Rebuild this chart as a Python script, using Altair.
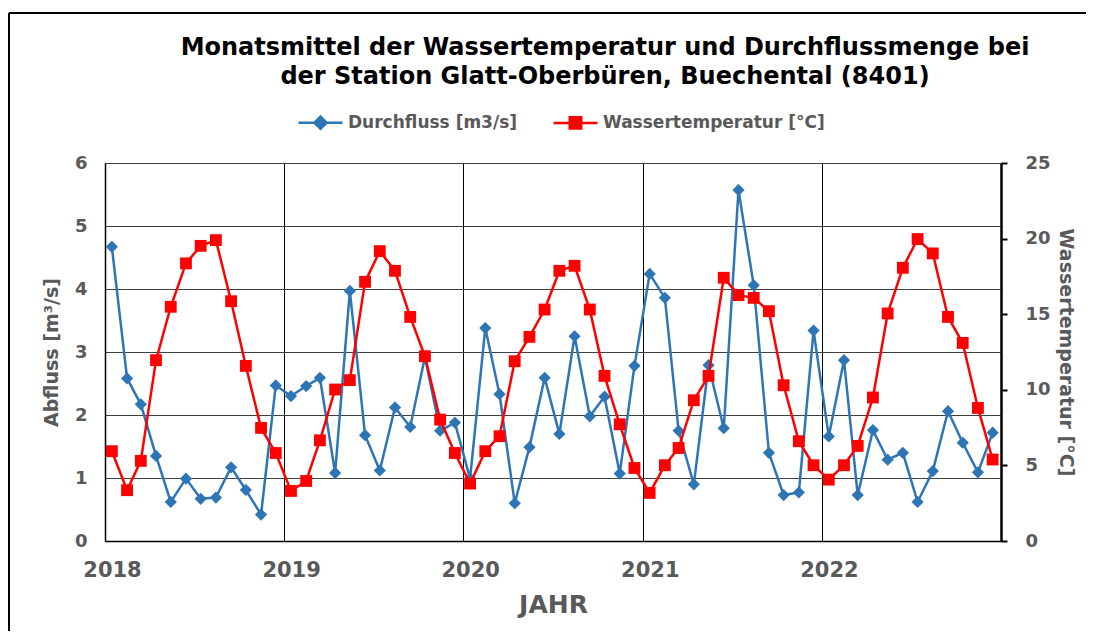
import altair as alt
import pandas as pd

years = [2018, 2019, 2020, 2021, 2022]
months = list(range(1, 13))

durchfluss = [
    4.67, 2.58, 2.17, 1.35, 0.62, 0.99, 0.67, 0.69, 1.17, 0.81, 0.42, 2.47,
    2.30, 2.46, 2.59, 1.08, 3.97, 1.68, 1.12, 2.12, 1.81, 2.92, 1.75, 1.88,
    0.99, 3.38, 2.33, 0.60, 1.49, 2.59, 1.70, 3.25, 1.98, 2.29, 1.07, 2.78,
    4.24, 3.86, 1.75, 0.90, 2.79, 1.79, 5.57, 4.06, 1.40, 0.73, 0.77, 3.34,
    1.66, 2.87, 0.73, 1.76, 1.29, 1.40, 0.62, 1.11, 2.06, 1.56, 1.09, 1.72,
]
temperatur = [
    5.94, 3.36, 5.30, 11.96, 15.49, 18.36, 19.52, 19.90, 15.86, 11.58, 7.48, 5.82,
    3.31, 3.97, 6.66, 10.02, 10.64, 17.14, 19.17, 17.87, 14.82, 12.22, 8.03, 5.82,
    3.80, 5.94, 6.93, 11.89, 13.50, 15.31, 17.87, 18.20, 15.31, 10.92, 7.72, 4.83,
    3.18, 5.01, 6.15, 9.31, 10.92, 17.41, 16.26, 16.08, 15.20, 10.30, 6.60, 5.01,
    4.06, 5.01, 6.29, 9.49, 15.05, 18.07, 19.97, 19.02, 14.82, 13.10, 8.80, 5.39,
]
series_names = ["Durchfluss [m3/s]", "Wassertemperatur [°C]"]
q_ticks = [0, 1, 2, 3, 4, 5, 6]
t_ticks = [0, 5, 10, 15, 20, 25]

dates = [f"{y}-{m:02d}-15T00:00:00" for y in years for m in months]
df = pd.DataFrame({"date": dates, "durchfluss": durchfluss, "temperatur": temperatur})
legend_df = pd.DataFrame({"series": series_names})

FONT = "DejaVu Sans"
GREY = "#595959"
BLUE = "#2E75B6"
RED = "#FF0000"

x_enc = alt.X(
    "date:T",
    scale=alt.Scale(domain=[alt.DateTime(year=2018, month=1, date=1),
                            alt.DateTime(year=2023, month=1, date=1)]),
    axis=alt.Axis(
        values=[alt.DateTime(year=y, month=1, date=1) for y in years],
        format="%Y", title="JAHR", grid=True, gridColor="black", gridWidth=1,
        tickSize=0, labelOffset=7, labelPadding=18, labelFlush=False,
        labelFontSize=21, labelFontWeight="bold", labelColor=GREY, labelFont=FONT,
        titleFontSize=25, titleFontWeight="bold", titleColor=GREY, titleFont=FONT,
        titlePadding=12, domainColor="black", domainWidth=1.5,
    ),
)

base = alt.Chart(df)

q_y = alt.Y(
    "durchfluss:Q",
    scale=alt.Scale(domain=[0, 6]),
    axis=alt.Axis(
        values=q_ticks, title="Abfluss [m³/s]", grid=True, gridColor="#404040",
        gridWidth=1.2, tickSize=0, labelPadding=18, labelFontSize=18,
        labelFontWeight="bold", labelColor=GREY, labelFont=FONT,
        titleFontSize=19, titleFontWeight="bold", titleColor=GREY, titleFont=FONT,
        titlePadding=13, domainColor="black", domainWidth=1.5,
    ),
)
t_y = alt.Y(
    "temperatur:Q",
    scale=alt.Scale(domain=[0, 25]),
    axis=alt.Axis(
        orient="right", values=t_ticks, title="Wassertemperatur [°C]", grid=False,
        tickSize=6, tickColor="black", tickWidth=2, labelPadding=18,
        labelFontSize=18, labelFontWeight="bold", labelColor=GREY, labelFont=FONT,
        titleFontSize=19, titleFontWeight="bold", titleColor=GREY, titleFont=FONT,
        titlePadding=5, domainColor="black", domainWidth=2.5,
    ),
)

q_line = base.mark_line(color=BLUE, strokeWidth=2.5).encode(x=x_enc, y=q_y)
q_pts = base.mark_point(shape="diamond", filled=True, color=BLUE, size=150, opacity=1).encode(x=x_enc, y=q_y)
t_line = base.mark_line(color=RED, strokeWidth=2.5).encode(x=x_enc, y=t_y)
t_pts = base.mark_point(shape="square", filled=True, color=RED, size=140, opacity=1).encode(x=x_enc, y=t_y)

legend = alt.Legend(
    title=None, orient="none", legendX=192, legendY=-64, direction="horizontal",
    symbolSize=1936, symbolStrokeWidth=2.5, symbolOpacity=1, labelFontSize=17,
    labelFontWeight="bold", labelColor=GREY, labelFont=FONT, labelLimit=400,
    columnPadding=30, labelOffset=4, padding=0,
)
diamond_path = "M-1,0L1,0M0,-0.28L0.28,0L0,0.28L-0.28,0Z"
square_path = "M-1,0L1,0M-0.26,-0.26L0.26,-0.26L0.26,0.26L-0.26,0.26Z"
leg = alt.Chart(legend_df).mark_point(filled=True, opacity=0).encode(
    fill=alt.Fill("series:N", scale=alt.Scale(domain=series_names, range=[BLUE, RED]), legend=legend),
    stroke=alt.Stroke("series:N", scale=alt.Scale(domain=series_names, range=[BLUE, RED]), legend=legend),
    shape=alt.Shape("series:N", scale=alt.Scale(domain=series_names, range=[diamond_path, square_path]), legend=legend),
)

frame_left = alt.Chart(legend_df).mark_rule(color="black", strokeWidth=2).encode(
    x=alt.value(-96), y=alt.value(-150), y2=alt.value(600))
frame_top = alt.Chart(legend_df).mark_rule(color="black", strokeWidth=2).encode(
    x=alt.value(-96), x2=alt.value(1200), y=alt.value(-150))

left = alt.layer(q_line, q_pts, leg, frame_left, frame_top)
right = alt.layer(t_line, t_pts)

chart = alt.layer(left, right).resolve_scale(y="independent").properties(
    width=896, height=378,
    autosize=alt.AutoSizeParams(type="none"),
    padding={"left": 97, "top": 155, "right": 85, "bottom": 90},
    title=alt.TitleParams(
        text=["Monatsmittel der Wassertemperatur und Durchflussmenge bei",
              "der Station Glatt-Oberbüren, Buechental (8401)"],
        fontSize=24, fontWeight="bold", font=FONT, color="black",
        anchor="middle", frame="group", dx=52, dy=87, offset=10, lineHeight=29,
    ),
).configure_view(stroke="#404040", strokeWidth=1)

chart.save("out.html", embed_options={"renderer": "svg", "actions": False})
